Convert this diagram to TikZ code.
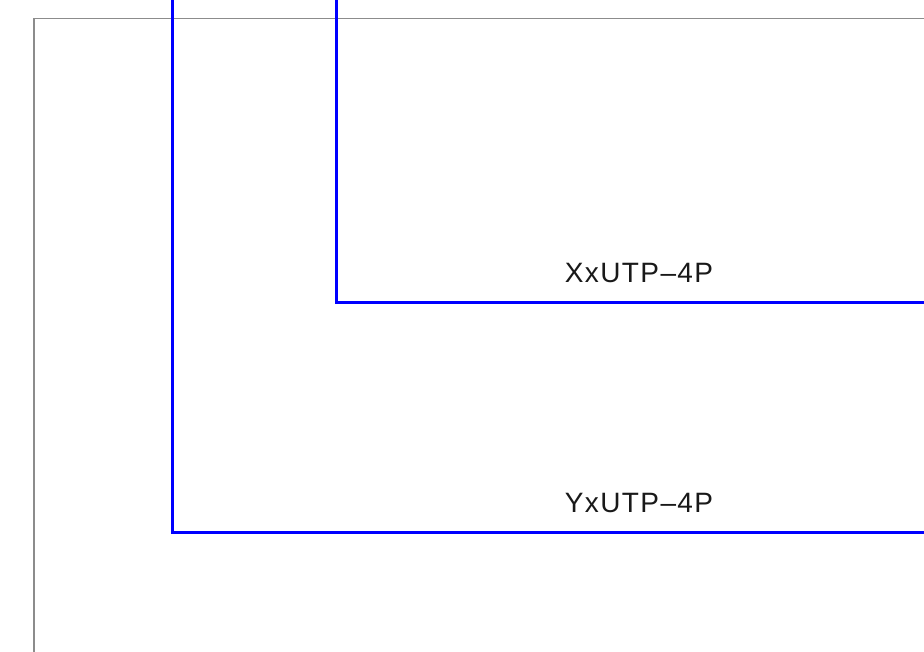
\documentclass[tikz,border=0pt]{standalone}
\usepackage{fontspec}
\setmainfont{Liberation Sans}
\newfontfamily\cadfont[LetterSpace=5]{Liberation Sans}
\begin{document}
\begin{tikzpicture}[x=1pt,y=-1pt,
  frame/.style={draw=black!45,line width=1.2pt},
  cable/.style={draw=blue,line width=3pt,line cap=rect},
  lbl/.style={font=\cadfont\fontsize{28}{30}\selectfont,text=black!90,inner sep=0pt,anchor=base}]
\useasboundingbox (0,0) rectangle (924,652);
\coordinate (f0) at (34,652);
\coordinate (f1) at (34,18.5);
\coordinate (f2) at (924,18.5);
\draw[frame] (f0) -- (f1) -- (f2);
\coordinate (a0) at (172.5,-5);
\coordinate (a1) at (172.5,532.5);
\coordinate (a2) at (930,532.5);
\coordinate (b0) at (336,-5);
\coordinate (b1) at (336,302.5);
\coordinate (b2) at (930,302.5);
\draw[cable] (a0) -- (a1) -- (a2);
\draw[cable] (b0) -- (b1) -- (b2);
\node[lbl] (lx) at (639,282.5) {XxUTP–4P};
\node[lbl] (ly) at (639,512.5) {YxUTP–4P};
\end{tikzpicture}
\end{document}
